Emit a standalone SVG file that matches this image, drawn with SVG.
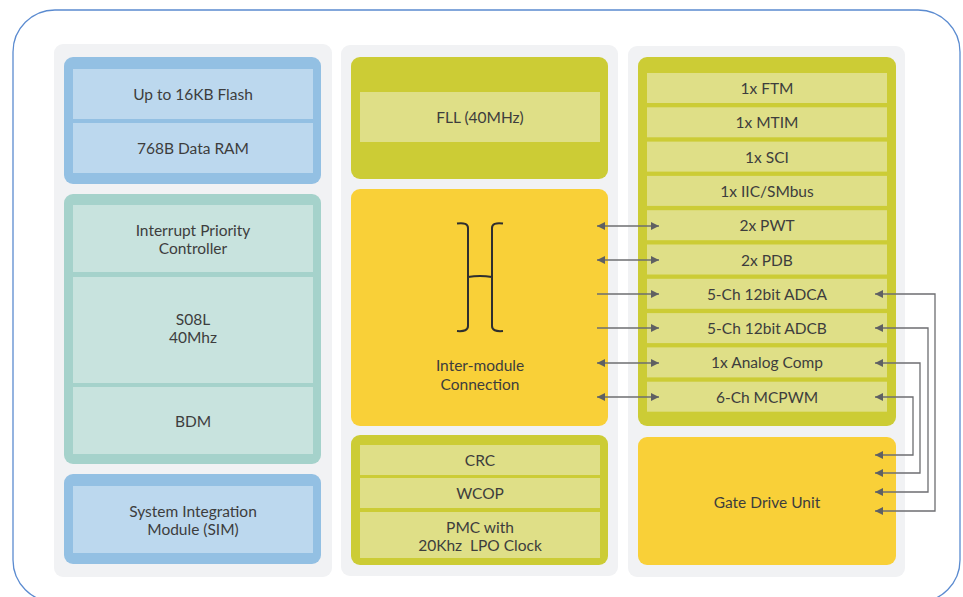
<svg xmlns="http://www.w3.org/2000/svg" width="963" height="597" viewBox="0 0 963 597">
<defs>
<style>
.t{font-family:Lato,"Open Sans","Liberation Sans",sans-serif;font-size:15.5px;fill:#3d3d3d;text-anchor:middle;dominant-baseline:central;white-space:pre}
.col{fill:#f1f2f4}
.blueO{fill:#93c0e3}.blueI{fill:#bcd8ee}
.tealO{fill:#a5d2cb}.tealI{fill:#c8e3de}
.grnO{fill:#cccc35}.grnI{fill:#dfdf87}
.yel{fill:#f9d038}
.cn{fill:none;stroke:#6d6e71;stroke-width:1.3}
</style>
<marker id="ah" viewBox="0 0 10 10" refX="10" refY="5" markerWidth="8" markerHeight="8" markerUnits="userSpaceOnUse" orient="auto-start-reverse">
<path d="M0,0 L10,5 L0,10 z" fill="#5f6062"/>
</marker>
</defs>
<rect x="13" y="10" width="947" height="592" rx="42" fill="#fff" stroke="#5b8bd0" stroke-width="1.3"/>
<rect class="col" x="54" y="44" width="278" height="533" rx="9"/>
<rect class="col" x="341" y="45" width="277" height="531" rx="9"/>
<rect class="col" x="628" y="46" width="277" height="531" rx="9"/>

<g id="memory">
<rect class="blueO" x="64" y="57" width="257" height="127" rx="9"/>
<rect class="blueI" x="73" y="69" width="240" height="50"/>
<rect class="blueI" x="73" y="123" width="240" height="50"/>
<text class="t" x="193" y="94">Up to 16KB Flash</text>
<text class="t" x="193" y="148">768B Data RAM</text>
</g>
<g id="core">
<rect class="tealO" x="64" y="194" width="257" height="270" rx="9"/>
<rect class="tealI" x="73" y="205" width="240" height="67"/>
<rect class="tealI" x="73" y="277" width="240" height="106"/>
<rect class="tealI" x="73" y="387" width="240" height="67"/>
<text class="t" x="193" y="230">Interrupt Priority</text>
<text class="t" x="193" y="248">Controller</text>
<text class="t" x="193" y="319">S08L</text>
<text class="t" x="193" y="337">40Mhz</text>
<text class="t" x="193" y="421">BDM</text>
</g>
<g id="sim">
<rect class="blueO" x="64" y="474" width="257" height="90" rx="9"/>
<rect class="blueI" x="73" y="486" width="240" height="67"/>
<text class="t" x="193" y="511">System Integration</text>
<text class="t" x="193" y="529">Module (SIM)</text>
</g>

<g id="fll">
<rect class="grnO" x="351" y="57" width="257" height="122" rx="9"/>
<rect class="grnI" x="360" y="92" width="240" height="50"/>
<text class="t" x="480" y="117">FLL (40MHz)</text>
</g>
<g id="intermodule">
<rect class="yel" x="351" y="189" width="257" height="237" rx="9"/>
<path d="M457,223.5 Q468,222 468,228 L468,326 Q468,332 457,331 M503,223.5 Q492,222 492,228 L492,326 Q492,332 503,331 M468,277 Q480,275 492,277" fill="none" stroke="#2f2f2f" stroke-width="2"/>
<text class="t" x="480" y="365">Inter-module</text>
<text class="t" x="480" y="384">Connection</text>
</g>
<g id="system">
<rect class="grnO" x="351" y="435" width="257" height="130" rx="9"/>
<rect class="grnI" x="360" y="445" width="240" height="30"/>
<rect class="grnI" x="360" y="478" width="240" height="30"/>
<rect class="grnI" x="360" y="512" width="240" height="46"/>
<text class="t" x="480" y="460">CRC</text>
<text class="t" x="480" y="493">WCOP</text>
<text class="t" x="480" y="527">PMC with</text>
<text class="t" x="480" y="545">20Khz  LPO Clock</text>
</g>

<g id="peripherals">
<rect class="grnO" x="638" y="57" width="258" height="369" rx="9"/>
<rect class="grnI" x="647" y="73" width="240" height="30"/>
<rect class="grnI" x="647" y="107.3" width="240" height="30"/>
<rect class="grnI" x="647" y="141.6" width="240" height="30"/>
<rect class="grnI" x="647" y="175.9" width="240" height="30"/>
<rect class="grnI" x="647" y="210.2" width="240" height="30"/>
<rect class="grnI" x="647" y="244.5" width="240" height="30"/>
<rect class="grnI" x="647" y="278.8" width="240" height="30"/>
<rect class="grnI" x="647" y="313.1" width="240" height="30"/>
<rect class="grnI" x="647" y="347.4" width="240" height="30"/>
<rect class="grnI" x="647" y="381.7" width="240" height="30"/>
<text class="t" x="767" y="88">1x FTM</text>
<text class="t" x="767" y="122.3">1x MTIM</text>
<text class="t" x="767" y="156.6">1x SCI</text>
<text class="t" x="767" y="190.9">1x IIC/SMbus</text>
<text class="t" x="767" y="225.2">2x PWT</text>
<text class="t" x="767" y="259.5">2x PDB</text>
<text class="t" x="767" y="293.8">5-Ch 12bit ADCA</text>
<text class="t" x="767" y="328.1">5-Ch 12bit ADCB</text>
<text class="t" x="767" y="362.4">1x Analog Comp</text>
<text class="t" x="767" y="396.7">6-Ch MCPWM</text>
</g>
<g id="gdu">
<rect class="yel" x="638" y="437" width="258" height="128" rx="9"/>
<text class="t" x="767" y="502">Gate Drive Unit</text>
</g>

<g id="connectors">
<path class="cn" d="M597,226 L659,226" marker-start="url(#ah)" marker-end="url(#ah)"/>
<path class="cn" d="M597,260 L659,260" marker-start="url(#ah)" marker-end="url(#ah)"/>
<path class="cn" d="M597,294 L659,294" marker-end="url(#ah)"/>
<path class="cn" d="M597,328 L659,328" marker-end="url(#ah)"/>
<path class="cn" d="M597,363 L659,363" marker-start="url(#ah)" marker-end="url(#ah)"/>
<path class="cn" d="M597,397 L659,397" marker-start="url(#ah)" marker-end="url(#ah)"/>
<path class="cn" d="M875,294 L935,294 L935,511 L875,511" marker-start="url(#ah)" marker-end="url(#ah)"/>
<path class="cn" d="M875,328 L928,328 L928,492 L875,492" marker-start="url(#ah)" marker-end="url(#ah)"/>
<path class="cn" d="M875,363 L920,363 L920,473 L875,473" marker-start="url(#ah)" marker-end="url(#ah)"/>
<path class="cn" d="M875,397 L913,397 L913,455 L875,455" marker-start="url(#ah)" marker-end="url(#ah)"/>
</g>
</svg>
